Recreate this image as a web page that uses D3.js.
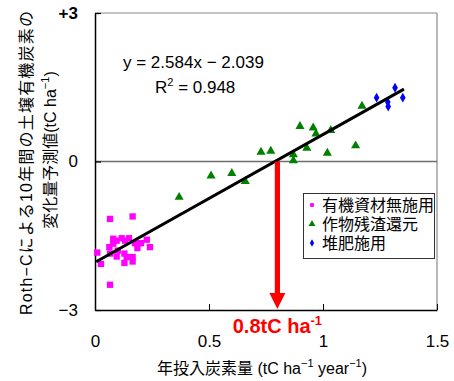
<!DOCTYPE html>
<html>
<head>
<meta charset="utf-8">
<script src="https://cdn.jsdelivr.net/npm/d3@7"></script>
<style>
  html, body { margin: 0; padding: 0; background: #fff; }
  svg { display: block; }
  text { font-family: "Liberation Sans", Arial, "Noto Sans CJK JP", sans-serif; }
</style>
</head>
<body>
<svg id="chart" width="454" height="381"></svg>
<script>
// Annual carbon input (tC/ha/yr) vs. predicted 10-year soil organic carbon change (tC/ha)

// 有機資材無施用 (no organic amendment)
const noAmendX = [0.066, 0.165, 0.080, 0.117, 0.149, 0.132, 0.063, 0.080, 0.095, 0.175, 0.202, 0.227, 0.241, 0.186, 0.010, 0.066, 0.095, 0.129, 0.139, 0.165, 0.165, 0.129, 0.026, 0.066, 0.100];
const noAmendY = [-1.16, -1.11, -1.56, -1.55, -1.55, -1.60, -1.73, -1.66, -1.60, -1.65, -1.65, -1.58, -1.73, -1.75, -1.84, -1.86, -1.92, -1.86, -1.93, -1.93, -2.02, -2.05, -2.07, -2.49, -1.80];

// 作物残渣還元 (crop residue returned)
const residueX = [0.369, 0.509, 0.600, 0.659, 0.728, 0.771, 0.870, 0.870, 0.929, 0.899, 0.957, 0.969, 1.034, 1.019, 1.143, 1.171];
const residueY = [-0.72, -0.29, -0.24, -0.40, 0.19, 0.21, 0.14, 0.02, 0.27, 0.71, 0.68, 0.56, 0.63, 0.17, 0.32, 1.12];

// 堆肥施用 (compost applied)
const compostX = [1.235, 1.316, 1.350, 1.284, 1.286];
const compostY = [1.29, 1.49, 1.29, 1.20, 1.11];

// Regression line y = slope * x + intercept
const slope = 2.584;
const intercept = -2.039;
const r2 = 0.948;
const lineRange = [0.005, 1.355];

// Break-even carbon input marked by the arrow
const breakEven = 0.8;

const xTicks = [0, 0.5, 1, 1.5];
const xTickLabels = ["0", "0.5", "1", "1.5"];
const yTicks = [-3, 0, 3];
const yTickLabels = ["\u22123", "0", "+3"];

const seriesNames = ["有機資材無施用", "作物残渣還元", "堆肥施用"];

const svg = d3.select("#chart");
const x = d3.scaleLinear().domain([0, 1.5]).range([95, 437]);
const y = d3.scaleLinear().domain([-3, 3]).range([310, 13]);

// Frame: top and right in gray
svg.append("line").attr("x1", x(0)).attr("x2", x(1.5)).attr("y1", y(3)).attr("y2", y(3))
  .attr("stroke", "#8a8a8a").attr("stroke-width", 1.2);
svg.append("line").attr("x1", x(1.5)).attr("x2", x(1.5)).attr("y1", y(3)).attr("y2", y(-3))
  .attr("stroke", "#8a8a8a").attr("stroke-width", 1.2);

// Zero reference line
svg.append("line").attr("x1", x(0)).attr("x2", x(1.5)).attr("y1", y(0)).attr("y2", y(0))
  .attr("stroke", "#6e6e6e").attr("stroke-width", 1.3);

// Axes
const xAxis = d3.axisBottom(x).tickValues(xTicks)
  .tickFormat((d, i) => xTickLabels[i]).tickSizeInner(-6).tickSizeOuter(0).tickPadding(25);
const gx = svg.append("g").attr("transform", `translate(0,${y(-3)})`).call(xAxis);
gx.select(".domain").attr("stroke", "#000").attr("stroke-width", 1.5);
gx.selectAll(".tick line").attr("stroke", "#000").attr("stroke-width", 1);
gx.selectAll(".tick text").attr("font-size", 17).attr("fill", "#000")
  .style("font-family", "'Liberation Sans', Arial, sans-serif");

const yAxis = d3.axisLeft(y).tickValues(yTicks)
  .tickFormat((d, i) => yTickLabels[i]).tickSizeInner(-6).tickSizeOuter(0).tickPadding(17);
const gy = svg.append("g").attr("transform", `translate(${x(0)},0)`).call(yAxis);
gy.select(".domain").attr("stroke", "#000").attr("stroke-width", 1.5);
gy.selectAll(".tick line").attr("stroke", "#000").attr("stroke-width", 1.2);
gy.selectAll(".tick text").attr("font-size", 17).attr("fill", "#000")
  .attr("font-weight", d => d === 3 ? "bold" : "normal")
  .style("font-family", "'Liberation Sans', Arial, sans-serif");

// Data points
const magenta = "#ff00ff", green = "#008000", blue = "#0000ff";
const sq = d3.symbol().type(d3.symbolSquare).size(40);
const tri = d3.symbol().type(d3.symbolTriangle).size(36);
const dia = d3.symbol().type(d3.symbolDiamond).size(28);

svg.append("g").selectAll("path").data(d3.zip(noAmendX, noAmendY)).join("path")
  .attr("d", sq).attr("fill", magenta)
  .attr("transform", d => `translate(${x(d[0])},${y(d[1])})`);
svg.append("g").selectAll("path").data(d3.zip(residueX, residueY)).join("path")
  .attr("d", tri).attr("fill", green)
  .attr("transform", d => `translate(${x(d[0])},${y(d[1])})`);
svg.append("g").selectAll("path").data(d3.zip(compostX, compostY)).join("path")
  .attr("d", dia).attr("fill", blue)
  .attr("transform", d => `translate(${x(d[0])},${y(d[1])})`);

// Regression line
const fit = lineRange.map(v => [v, slope * v + intercept]);
svg.append("path").datum(fit)
  .attr("d", d3.line().x(d => x(d[0])).y(d => y(d[1])))
  .attr("stroke", "#000").attr("stroke-width", 3).attr("fill", "none");

// Equation
svg.append("text").attr("x", 123).attr("y", 68).attr("font-size", 17)
  .text(`y = ${slope}x \u2212 ${Math.abs(intercept)}`);
const r2t = svg.append("text").attr("x", 155).attr("y", 93).attr("font-size", 17);
r2t.append("tspan").text("R");
r2t.append("tspan").attr("font-size", 11).attr("dy", -7).text("2");
r2t.append("tspan").attr("dy", 7).text(` = ${r2}`);

// Red arrow from the zero crossing down to the x axis
const ax = x(breakEven);
const headTop = y(-3) - 17;
svg.append("rect").attr("x", ax - 2.6).attr("width", 5.2)
  .attr("y", y(0)).attr("height", headTop - y(0) + 1).attr("fill", "#ff0000");
svg.append("path")
  .attr("d", `M${ax - 8},${headTop} L${ax + 8},${headTop} L${ax},${y(-3) - 1} Z`)
  .attr("fill", "#ff0000");

const lbl = svg.append("text").attr("x", ax).attr("y", 333).attr("text-anchor", "middle")
  .attr("font-size", 20).attr("font-weight", "bold").attr("fill", "#ff0000");
lbl.append("tspan").text(`${breakEven}tC ha`);
lbl.append("tspan").attr("font-size", 13).attr("dy", -8).text("-1");

// Legend
const lg = svg.append("g");
lg.append("rect").attr("x", 303.5).attr("y", 193.5).attr("width", 131).attr("height", 65)
  .attr("fill", "#fff").attr("stroke", "#333").attr("stroke-width", 1);
const legendSymbols = [sq, tri, dia];
const legendColors = [magenta, green, blue];
const legendSizes = [0.6, 0.75, 0.75];
seriesNames.forEach((name, i) => {
  const cy = 205 + i * 19;
  lg.append("path").attr("d", legendSymbols[i]).attr("fill", legendColors[i])
    .attr("transform", `translate(312,${cy}) scale(${legendSizes[i]})`);
  lg.append("text").attr("x", 322).attr("y", cy + 6).attr("font-size", 16).text(name);
});

// Axis titles
const xt = svg.append("text").attr("x", 262).attr("y", 374).attr("text-anchor", "middle")
  .attr("font-size", 16);
xt.append("tspan").text("年投入炭素量");
xt.append("tspan").text(" (tC ha");
xt.append("tspan").attr("font-size", 11).attr("dy", -7).text("\u22121");
xt.append("tspan").attr("dy", 7).text(" year");
xt.append("tspan").attr("font-size", 11).attr("dy", -7).text("\u22121");
xt.append("tspan").attr("dy", 7).text(")");

svg.append("text").attr("transform", "translate(32,163) rotate(-90)")
  .attr("text-anchor", "middle").attr("font-size", 16)
  .attr("textLength", 304).attr("lengthAdjust", "spacing")
  .text("Roth\u2212Cによる10年間の土壌有機炭素の");

const yt2 = svg.append("text").attr("transform", "translate(56,150) rotate(-90)")
  .attr("text-anchor", "middle").attr("font-size", 16);
yt2.append("tspan").text("変化量予測値(tC ha");
yt2.append("tspan").attr("font-size", 11).attr("dy", -7).text("\u22121");
yt2.append("tspan").attr("dy", 7).text(")");
</script>
</body>
</html>
